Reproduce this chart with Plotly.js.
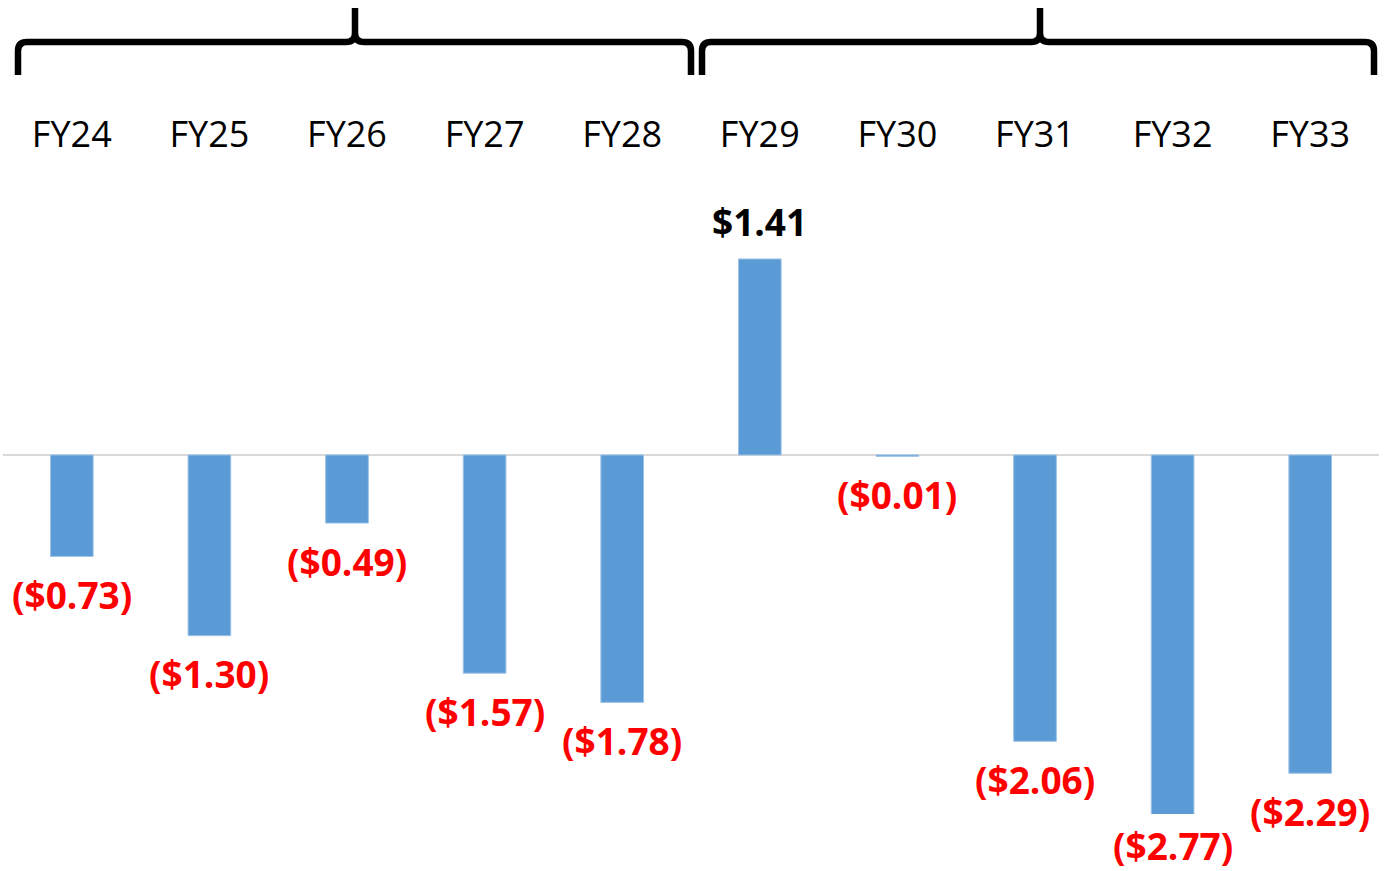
<!DOCTYPE html>
<html>
<head>
<meta charset="utf-8">
<script src="https://cdn.plot.ly/plotly-3.0.1.min.js"></script>
<style>html,body{margin:0;padding:0;background:#fff;}#chart{width:1385px;height:871px;}</style>
</head>
<body>
<div id="chart"></div>
<script>
// ---- data ----
const categories = ["FY24","FY25","FY26","FY27","FY28","FY29","FY30","FY31","FY32","FY33"];
const values = [-0.73, -1.30, -0.49, -1.57, -1.78, 1.41, -0.01, -2.06, -2.77, -2.29];

// ---- layout geometry (pixels) ----
const W = 1385, H = 871;
const mL = 3, mR = 6, mT = 170, mB = 57;
const plotW = W - mL - mR, plotH = H - mT - mB;
const yMin = -2.583, yMax = 2.05;

function fmt(v) {
  const s = "$" + Math.abs(v).toFixed(2);
  return v < 0 ? "(" + s + ")" : s;
}

const xs = categories.map((c, i) => i);

const trace = {
  type: "bar",
  x: xs,
  y: values,
  width: 0.31,
  marker: { color: "#5B9BD5", line: { color: "#9DC3E6", width: 1 } },
  hoverinfo: "skip"
};

const annotations = values.map((v, i) => {
  const yAnchor = Math.max(v, yMin);
  const clipped = v < yMin;
  return {
    x: i, y: yAnchor, xref: "x", yref: "y",
    text: "<b>" + fmt(v) + "</b>",
    showarrow: false,
    xanchor: "center", yanchor: "middle",
    borderpad: 0,
    yshift: v >= 0 ? 37 : (clipped ? -31 : -38),
    font: { family: "Open Sans, sans-serif", size: 37, color: v >= 0 ? "#000000" : "#FF0000" }
  };
});

// pixel -> paper helpers for decorative braces
const px = p => (p - mL) / plotW;
const py = p => (H - mB - p) / plotH;
function brace(x0, xc, x1) {
  const yb = 75, yh = 42, yt = 8, r = 9;
  return "M " + px(x0) + "," + py(yb) +
    " L " + px(x0) + "," + py(yh + r) +
    " Q " + px(x0) + "," + py(yh) + " " + px(x0 + r) + "," + py(yh) +
    " L " + px(xc - r) + "," + py(yh) +
    " Q " + px(xc) + "," + py(yh) + " " + px(xc) + "," + py(yh - r) +
    " L " + px(xc) + "," + py(yt) +
    " M " + px(xc) + "," + py(yh - r) +
    " Q " + px(xc) + "," + py(yh) + " " + px(xc + r) + "," + py(yh) +
    " L " + px(x1 - r) + "," + py(yh) +
    " Q " + px(x1) + "," + py(yh) + " " + px(x1) + "," + py(yh + r) +
    " L " + px(x1) + "," + py(yb);
}

const shapes = [
  { type: "path", xref: "paper", yref: "paper", path: brace(18, 355, 691), line: { color: "#000", width: 6.5 } },
  { type: "path", xref: "paper", yref: "paper", path: brace(702, 1040, 1374), line: { color: "#000", width: 6.5 } }
];

const layout = {
  width: W, height: H,
  margin: { l: mL, r: mR, t: mT, b: mB, pad: 0 },
  paper_bgcolor: "#fff", plot_bgcolor: "#fff",
  showlegend: false,
  xaxis: {
    side: "top",
    range: [-0.5, categories.length - 0.5],
    tickvals: xs, ticktext: categories,
    showgrid: false, zeroline: false, showline: false, ticks: "",
    ticklabelstandoff: 15,
    tickfont: { family: "Open Sans, sans-serif", size: 36, color: "#000" },
    fixedrange: true
  },
  yaxis: {
    range: [yMin, yMax],
    showgrid: false, showticklabels: false, ticks: "", showline: false,
    zeroline: true, zerolinecolor: "#D9D9D9", zerolinewidth: 2,
    fixedrange: true
  },
  annotations: annotations,
  shapes: shapes
};

Plotly.newPlot("chart", [trace], layout, { displayModeBar: false, staticPlot: true });
</script>
</body>
</html>
